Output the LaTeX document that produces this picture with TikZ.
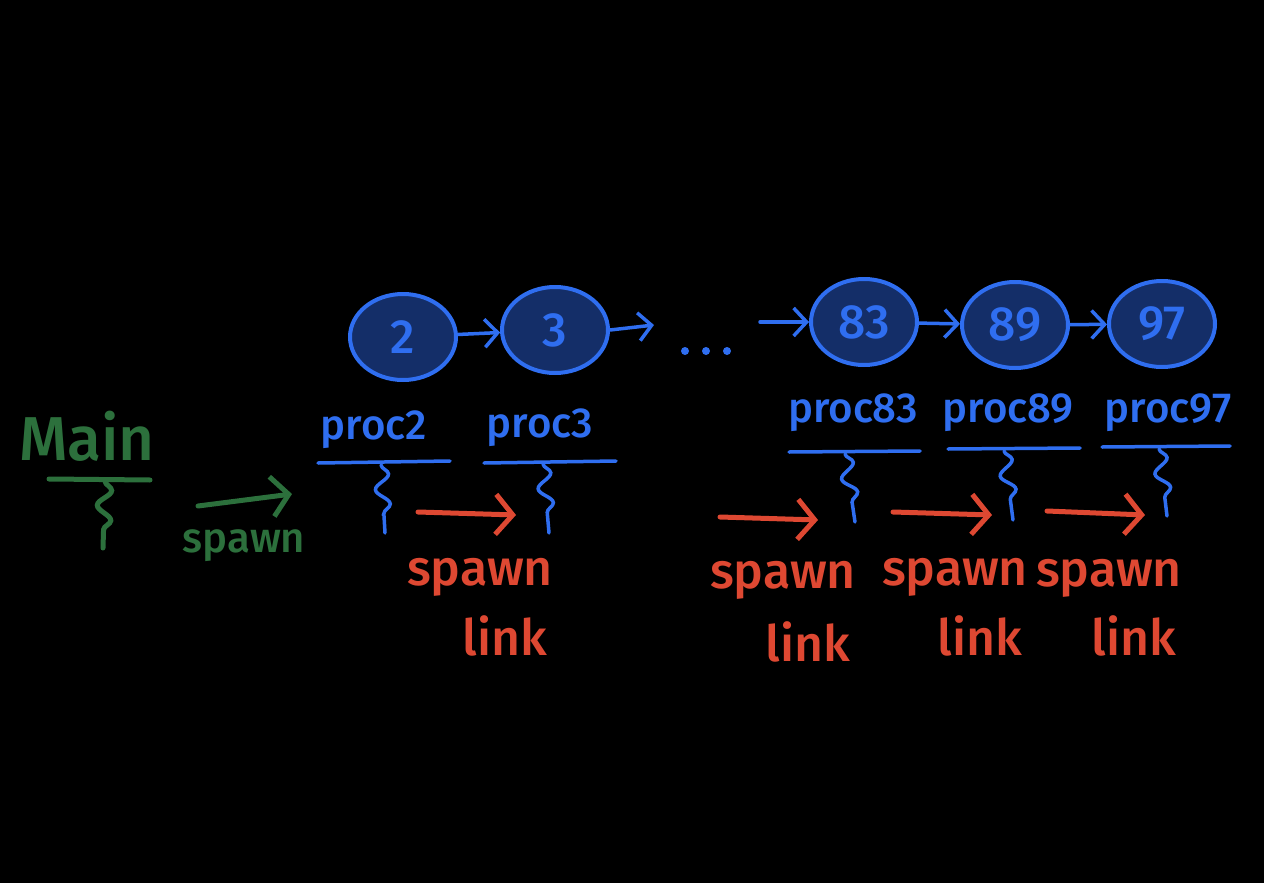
\documentclass[tikz,border=0pt]{standalone}
\usepackage{fontspec}
\setmainfont{Fira Sans}[UprightFont={* Medium}]
\usetikzlibrary{shapes.geometric,arrows.meta,decorations.pathmorphing}
\definecolor{bl}{RGB}{47,110,240}
\definecolor{nav}{RGB}{20,46,104}
\definecolor{rd}{RGB}{222,72,50}
\definecolor{gr}{RGB}{44,112,60}
\begin{document}
\begin{tikzpicture}[x=1pt,y=-1pt,
  cell/.style={ellipse, draw=bl, fill=nav, line width=4pt, minimum width=106pt, minimum height=86pt, inner sep=0pt, text=bl, font=\fontsize{48}{48}\selectfont},
  lbl/.style={text=bl, font=\fontsize{42}{42}\selectfont, inner sep=0pt},
  rlbl/.style={text=rd, font=\fontsize{50}{50}\selectfont, inner sep=0pt},
  barrow/.style={draw=bl, line width=3.5pt, line cap=round, -{Straight Barb[length=13pt,width=28pt]}},
  rarrow/.style={draw=rd, line width=5pt, line cap=round, -{Straight Barb[length=17pt,width=40pt]}},
  garrow/.style={draw=gr, line width=5pt, line cap=round, -{Straight Barb[length=17pt,width=40pt]}},
  uline/.style={line width=3.5pt, line cap=round},
  wiggle/.style={line width=3.5pt, line cap=round, decorate, decoration={snake, segment length=30pt, amplitude=7pt, post length=18pt}},
  dotmark/.style={circle, fill=bl, inner sep=0pt, minimum size=8pt}
]
\fill[black] (0,0) rectangle (1264,883);
\useasboundingbox (0,0) rectangle (1264,883);

% cells
\node[cell] (c2) at (403,337) {2};
\node[cell] (c3) at (555,330) {3};
\node[cell] (c83) at (864,322) {83};
\node[cell] (c89) at (1015,325) {89};
\node[cell] (c97) at (1162,324) {97};
\coordinate (gapa) at (654,325);
\coordinate (gapb) at (760,322);
\node[dotmark] (d1) at (685,351) {};
\node[dotmark] (d2) at (706,351) {};
\node[dotmark] (d3) at (727,351) {};
\draw[barrow] (c2) -- (c3);
\draw[barrow] (c3.east) -- (gapa);
\draw[barrow] (gapb) -- (c83.west);
\draw[barrow] (c83) -- (c89);
\draw[barrow] (c89) -- (c97);

% process labels
\node[lbl] (p2) at (374,430) {proc2};
\node[lbl] (p3) at (540,428) {proc3};
\node[lbl] (p83) at (853,413) {proc83};
\node[lbl] (p89) at (1008,413) {proc89};
\node[lbl] (p97) at (1168,413) {proc97};

% underlines
\draw[uline, bl] (318,463) -- (450,461);
\draw[uline, bl] (484,463) -- (616,461);
\draw[uline, bl] (789,452) -- (920,451);
\draw[uline, bl] (948,449) -- (1080,448);
\draw[uline, bl] (1102,447) -- (1230,446);

% squiggles
\coordinate (s2t) at (381,465); \coordinate (s2b) at (385,533);
\coordinate (s3t) at (543,464); \coordinate (s3b) at (549,533);
\coordinate (s83t) at (845,454); \coordinate (s83b) at (855,522);
\coordinate (s89t) at (1004,451); \coordinate (s89b) at (1013,520);
\coordinate (s97t) at (1159,449); \coordinate (s97b) at (1167,516);
\draw[wiggle, bl] (s2t) -- (s2b);
\draw[wiggle, bl] (s3t) -- (s3b);
\draw[wiggle, bl] (s83t) -- (s83b);
\draw[wiggle, bl] (s89t) -- (s89b);
\draw[wiggle, bl] (s97t) -- (s97b);

% red spawn link arrows
\coordinate (r1a) at (418,512); \coordinate (r1b) at (516,515);
\coordinate (r2a) at (720,517); \coordinate (r2b) at (818,520);
\coordinate (r3a) at (893,512); \coordinate (r3b) at (992,515);
\coordinate (r4a) at (1047,511); \coordinate (r4b) at (1145,515);
\draw[rarrow] (r1a) -- (r1b);
\draw[rarrow] (r2a) -- (r2b);
\draw[rarrow] (r3a) -- (r3b);
\draw[rarrow] (r4a) -- (r4b);

\node[rlbl] (sp1) at (480,577) {spawn};
\node[rlbl] (lk1) at (505,636) {link};
\node[rlbl] (sp2) at (783,580) {spawn};
\node[rlbl] (lk2) at (808,642) {link};
\node[rlbl] (sp3) at (955,577) {spawn};
\node[rlbl] (lk3) at (980,636) {link};
\node[rlbl] (sp4) at (1109,578) {spawn};
\node[rlbl] (lk4) at (1134,636) {link};

% main
\node[text=gr, font=\fontsize{62}{62}\selectfont, inner sep=0pt] (main) at (87,436) {Main};
\draw[uline, gr, line width=5pt] (49,479) -- (150,480);
\coordinate (mt) at (105,481); \coordinate (mb) at (103,548);
\draw[wiggle, gr, line width=5pt] (mt) -- (mb);
\coordinate (ga) at (198,506); \coordinate (gb) at (292,494);
\draw[garrow] (ga) -- (gb);
\node[text=gr, font=\fontsize{42}{42}\selectfont, inner sep=0pt] (gsp) at (244,546) {spawn};
\end{tikzpicture}
\end{document}
